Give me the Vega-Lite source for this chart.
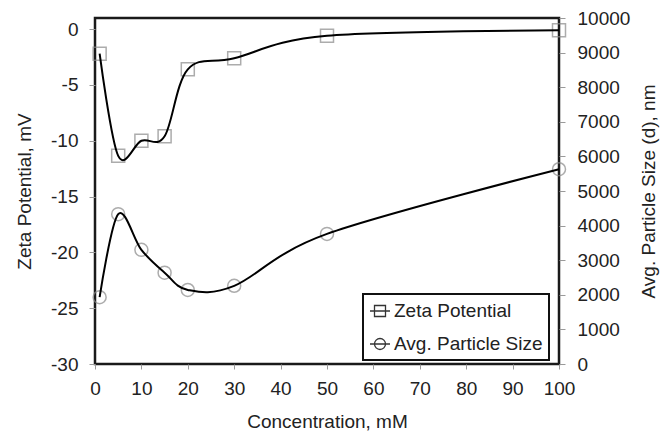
{
  "$schema": "https://vega.github.io/schema/vega-lite/v6.json",
  "width": 464,
  "height": 346,
  "autosize": {"type": "none"},
  "padding": {"left": 95, "top": 18, "right": 113, "bottom": 73},
  "background": "white",
  "data": {
    "values": [
      {"conc": 1, "zeta": -2.2, "size": 1930},
      {"conc": 5, "zeta": -11.35, "size": 4330},
      {"conc": 10, "zeta": -10.0, "size": 3300},
      {"conc": 15, "zeta": -9.6, "size": 2640},
      {"conc": 20, "zeta": -3.6, "size": 2140},
      {"conc": 30, "zeta": -2.6, "size": 2260},
      {"conc": 50, "zeta": -0.6, "size": 3760},
      {"conc": 100, "zeta": -0.1, "size": 5630}
    ]
  },
  "encoding": {
    "x": {
      "field": "conc",
      "type": "quantitative",
      "scale": {"domain": [0, 100], "nice": false},
      "axis": {
        "values": [0, 10, 20, 30, 40, 50, 60, 70, 80, 90, 100],
        "format": "d",
        "title": "Concentration, mM",
        "tickSize": 5,
        "labelPadding": 10,
        "titlePadding": 14
      }
    }
  },
  "layer": [
    {
      "encoding": {
        "y": {
          "field": "zeta",
          "type": "quantitative",
          "scale": {"domain": [-30, 1], "nice": false, "zero": false},
          "axis": {
            "orient": "left",
            "values": [-30, -25, -20, -15, -10, -5, 0],
            "labelExpr": "datum.value < 0 ? '-' + (-datum.value) : '' + datum.value",
            "title": "Zeta Potential, mV",
            "tickSize": 6,
            "labelPadding": 11,
            "titlePadding": 16
          }
        }
      },
      "layer": [
        {
          "description": "legend key: a line through the series marker",
          "mark": {"type": "point", "filled": false, "opacity": 0, "stroke": "#333", "strokeWidth": 1.4},
          "encoding": {
            "shape": {
              "datum": "Zeta Potential",
              "type": "nominal",
              "scale": {
                "domain": ["Zeta Potential", "Avg. Particle Size"],
                "range": [
                  "M-1,0H1M-0.55,-0.55H0.55V0.55H-0.55Z",
                  "M-1,0H1M0.55,0A0.55,0.55 0 1,1 -0.55,0A0.55,0.55 0 1,1 0.55,0Z"
                ]
              },
              "legend": {
                "title": null,
                "orient": "none",
                "legendX": 268,
                "legendY": 276,
                "direction": "vertical",
                "strokeColor": "#111",
                "fillColor": "white",
                "padding": 6,
                "rowPadding": 12,
                "symbolSize": 400,
                "symbolOpacity": 1,
                "symbolStrokeColor": "#333",
                "symbolStrokeWidth": 1.3,
                "labelOffset": 3,
                "labelLimit": 300,
                "labelFontSize": 19
              }
            }
          }
        },
        {
          "mark": {"type": "point", "shape": "square", "filled": false, "size": 169, "stroke": "#8a8a8a", "strokeWidth": 1.5}
        },
        {
          "mark": {"type": "line", "interpolate": "cardinal", "color": "black", "strokeWidth": 2}
        }
      ]
    },
    {
      "encoding": {
        "y": {
          "field": "size",
          "type": "quantitative",
          "scale": {"domain": [0, 10000], "nice": false},
          "axis": {
            "orient": "right",
            "values": [0, 1000, 2000, 3000, 4000, 5000, 6000, 7000, 8000, 9000, 10000],
            "format": "d",
            "title": "Avg. Particle Size (d), nm",
            "titleAngle": 270,
            "titleBaseline": "top",
            "tickSize": 6,
            "labelPadding": 12,
            "titlePadding": 10
          }
        }
      },
      "layer": [
        {
          "mark": {"type": "point", "shape": "circle", "filled": false, "size": 169, "stroke": "#8a8a8a", "strokeWidth": 1.5}
        },
        {
          "mark": {"type": "line", "interpolate": "cardinal", "color": "black", "strokeWidth": 2}
        }
      ]
    }
  ],
  "resolve": {"scale": {"y": "independent"}},
  "config": {
    "view": {"stroke": "#1a1a1a", "strokeWidth": 2.5},
    "axis": {
      "grid": false,
      "domain": false,
      "tickColor": "#9a9a9a",
      "tickWidth": 1,
      "labelFont": "Liberation Sans",
      "titleFont": "Liberation Sans",
      "labelFontSize": 19,
      "titleFontSize": 19,
      "titleFontWeight": "normal",
      "labelColor": "#222",
      "titleColor": "#222",
      "labelFlush": false,
      "labelOverlap": false
    },
    "legend": {
      "labelFont": "Liberation Sans",
      "labelColor": "#222",
      "strokeWidth": 2
    }
  }
}
